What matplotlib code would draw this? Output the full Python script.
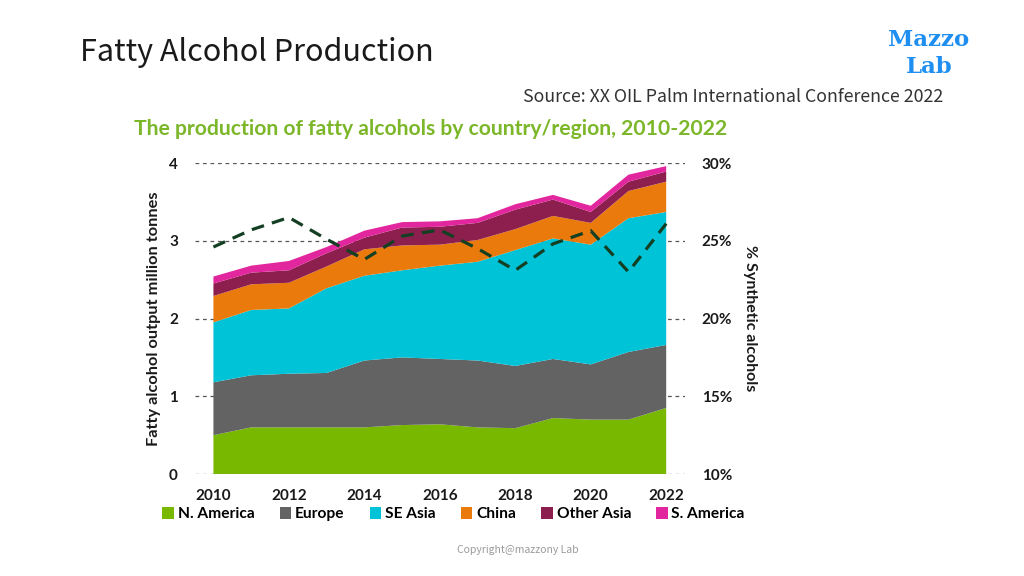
import numpy as np
import matplotlib.pyplot as plt
from matplotlib.patches import Patch

# data (million tonnes, stacked)
years = [2010, 2011, 2012, 2013, 2014, 2015, 2016, 2017, 2018, 2019, 2020, 2021, 2022]
n_america = [0.50, 0.60, 0.60, 0.60, 0.60, 0.63, 0.64, 0.60, 0.59, 0.72, 0.70, 0.70, 0.85]
europe = [0.68, 0.67, 0.69, 0.70, 0.86, 0.87, 0.84, 0.86, 0.80, 0.76, 0.71, 0.87, 0.81]
se_asia = [0.77, 0.84, 0.84, 1.09, 1.09, 1.12, 1.20, 1.27, 1.49, 1.55, 1.54, 1.72, 1.71]
china = [0.34, 0.33, 0.33, 0.28, 0.34, 0.32, 0.27, 0.28, 0.27, 0.29, 0.28, 0.35, 0.39]
other_asia = [0.16, 0.15, 0.16, 0.17, 0.15, 0.23, 0.23, 0.22, 0.25, 0.21, 0.14, 0.12, 0.13]
s_america = [0.09, 0.09, 0.12, 0.08, 0.09, 0.07, 0.07, 0.06, 0.07, 0.06, 0.08, 0.09, 0.07]
synthetic_pct = [24.6, 25.7, 26.5, 25.1, 23.8, 25.3, 25.7, 24.5, 23.1, 24.8, 25.65, 23.0, 26.1]

series_names = ['N. America', 'Europe', 'SE Asia', 'China', 'Other Asia', 'S. America']
series_colors = ['#78B800', '#636363', '#00C3D7', '#EA7A0C', '#8C1F4E', '#E2269D']
left_ticks = [0, 1, 2, 3, 4]
right_ticks = [10, 15, 20, 25, 30]
xtick_years = [2010, 2012, 2014, 2016, 2018, 2020, 2022]

chart_font = 'Lato'

fig = plt.figure(figsize=(10.24, 5.76), dpi=100)
fig.patch.set_facecolor('white')

ax = fig.add_axes([0.190, 0.177, 0.479, 0.540])
ax.stackplot(years, n_america, europe, se_asia, china, other_asia, s_america,
             colors=series_colors, linewidth=0, zorder=2)

for t in left_ticks:
    ax.axhline(t, color='#555555', lw=0.9, ls=(0, (3, 3)), zorder=1)

ax.set_xlim(2009.5, 2022.5)
ax.set_ylim(0, 4)
ax.set_xticks(xtick_years)
ax.set_yticks(left_ticks)
ax.tick_params(length=0)
ax.tick_params(axis='x', pad=11)
ax.tick_params(axis='y', pad=12)
for lab in ax.get_xticklabels() + ax.get_yticklabels():
    lab.set_fontfamily(chart_font)
    lab.set_fontweight('bold')
    lab.set_fontsize(11)
    lab.set_color('#1a1a1a')
for s in ax.spines.values():
    s.set_visible(False)
ax.set_ylabel('Fatty alcohol output million tonnes', fontfamily=chart_font,
              fontweight='bold', fontsize=11.8, color='#1a1a1a', labelpad=6)

ax2 = ax.twinx()
ax2.plot(years, synthetic_pct, color='#143F22', lw=2.3, dashes=(4, 2.6), zorder=5)
ax2.set_ylim(10, 30)
ax2.set_yticks(right_ticks)
ax2.set_yticklabels(['%d%%' % v for v in right_ticks])
ax2.tick_params(length=0, pad=12)
for lab in ax2.get_yticklabels():
    lab.set_fontfamily(chart_font)
    lab.set_fontweight('bold')
    lab.set_fontsize(11)
    lab.set_color('#1a1a1a')
for s in ax2.spines.values():
    s.set_visible(False)
ax2.set_ylabel('% Synthetic alcohols', fontfamily=chart_font, fontweight='bold',
               fontsize=11.5, color='#1a1a1a', rotation=270, labelpad=18)

handles = [Patch(facecolor=c, edgecolor='none') for c in series_colors]
fig.legend(handles, series_names, loc='center', bbox_to_anchor=(0.443, 0.107),
           ncol=6, frameon=False, handlelength=0.75, handleheight=0.75,
           handletextpad=0.25, columnspacing=1.6,
           prop={'family': chart_font, 'weight': 'bold', 'size': 11.2})

# chart title
fig.text(0.421, 0.776, 'The production of fatty alcohols by country/region, 2010-2022',
         ha='center', va='center', color='#7CB72A', fontfamily=chart_font,
         fontweight='bold', fontsize=15.2)

# slide texts
fig.text(0.078, 0.909, 'Fatty Alcohol Production', ha='left', va='center',
         fontfamily='Noto Sans CJK SC', fontweight='light', fontsize=22, color='#1a1a1a')
fig.text(0.921, 0.832, 'Source: XX OIL Palm International Conference 2022', ha='right',
         va='center', fontfamily='Noto Sans CJK SC', fontsize=12.8, color='#333333')
fig.text(0.907, 0.930, 'Mazzo', ha='center', va='center', fontfamily='DejaVu Serif',
         fontweight='bold', fontsize=16.5, color='#1E8FF0')
fig.text(0.907, 0.884, 'Lab', ha='center', va='center', fontfamily='DejaVu Serif',
         fontweight='bold', fontsize=16.5, color='#1E8FF0')
fig.text(0.506, 0.045, 'Copyright@mazzony Lab', ha='center', va='center',
         fontfamily='Noto Sans CJK SC', fontsize=7.5, color='#9a9a9a')

fig.savefig('out.png', dpi=100, facecolor='white')
